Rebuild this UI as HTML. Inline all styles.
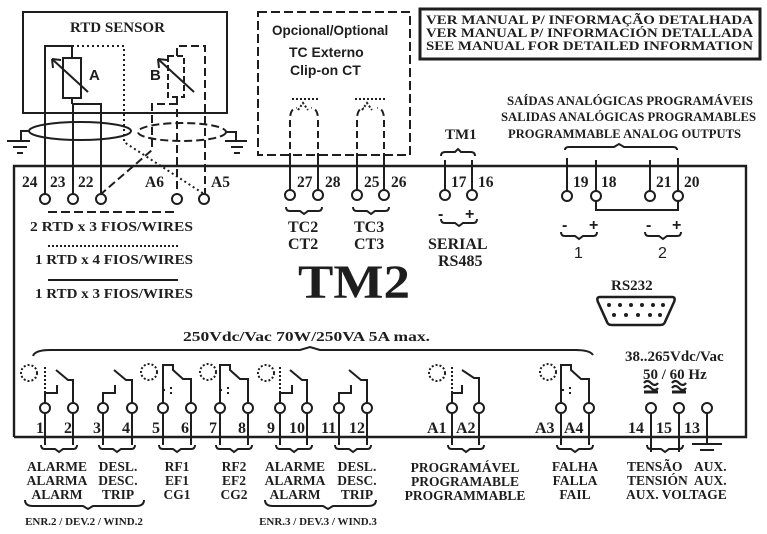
<!DOCTYPE html>
<html><head><meta charset="utf-8"><style>
html,body{margin:0;padding:0;background:#fff}
svg{display:block}
text{font-family:"Liberation Serif",serif;font-weight:bold;fill:#1e1e1e}
.s{font-family:"Liberation Sans",sans-serif}
</style></head><body>
<svg width="767" height="534" viewBox="0 0 767 534" xmlns="http://www.w3.org/2000/svg">
<g fill="none" stroke="#1e1e1e" stroke-width="2">
<path d="M14 437 V166 H746 V437 H14" stroke-width="2.4"/>
<rect x="23" y="12" width="204" height="101"/>
<rect x="258" y="12" width="152" height="143" stroke-dasharray="9,4"/>
<rect x="420" y="9" width="340" height="50" stroke-width="3"/>
<rect x="63" y="58" width="18" height="40"/>
<path d="M52 59 L88 92"/><path d="M52 59 l9 1 M52 59 l1 9"/>
<path d="M45 194 V46 H72 V58"/>
<path d="M72 98 V104 M73 194 V104 H101 V194"/>
<path d="M72 46 H124 V142 L204 194" stroke-dasharray="2,3"/>
<rect x="168" y="56" width="16" height="41" stroke-dasharray="6,3"/>
<path d="M158 59 L194 92" /><path d="M158 59 l9 1 M158 59 l1 9"/>
<path d="M177 56 V46 H205 V194" stroke-dasharray="8,4"/>
<path d="M177 97 V194 M177 104 H152 V150 L101 194" stroke-dasharray="8,4"/>
<ellipse cx="80" cy="131" rx="51" ry="9"/>
<ellipse cx="182" cy="132" rx="44" ry="9" stroke-dasharray="8,4"/>
<path d="M29 131 H21 V141 M7 141 H30 M13 147 H27 M17 153 H23" />
<path d="M226 132 H236 V141 M225 141 H247 M231 147 H243 M234 153 H240"/>
<path d="M290 160 V120 Q290 108 297 108 M318 160 V120 Q318 108 311 108" stroke-dasharray="7,4"/>
<path d="M357 160 V120 Q357 108 364 108 M384 160 V120 Q384 108 377 108" stroke-dasharray="7,4"/>
<path d="M292 99 H320 M355 99 H385 M298 110 l5 -7 l5 7 M362 110 l5 -7 l5 7" stroke-dasharray="2,2"/>
<path d="M290 155 V194 M318 155 V194 M357 155 V194 M384 155 V194"/>
<path d="M445 194 V160 M472 194 V160"/>
<path d="M441 156 q0 -4 4 -4 h10 l3 -3 l3 3 h10 q4 0 4 4"/>
<path d="M567 191 V158 M596 191 V160 M650 191 V160 M678 191 V158"/>
<path d="M565 150 q0 -3 4 -3 h45 l5 -3 l5 3 h49 q4 0 4 3"/>
<path d="M596 201 V210 H678 V201"/>
<path d="M286 207 q0 4 4 4 h10 l4 3 l4 -3 h10 q4 0 4 -4 M353 207 q0 4 4 4 h10 l4 3 l4 -3 h10 q4 0 4 -4"/>
<path d="M441 219 q0 4 4 4 h10 l4 3 l4 -3 h10 q4 0 4 -4"/>
<path d="M561 232 q0 4 4 4 h10 l4 3 l4 -3 h10 q4 0 4 -4 M645 232 q0 4 4 4 h10 l4 3 l4 -3 h10 q4 0 4 -4"/>
<g fill="#fff">
<circle cx="45" cy="199" r="5"/><circle cx="73" cy="199" r="5"/><circle cx="101" cy="199" r="5"/><circle cx="177" cy="199" r="5"/><circle cx="204" cy="199" r="5"/>
<circle cx="290" cy="195" r="5"/><circle cx="318" cy="195" r="5"/><circle cx="357" cy="195" r="5"/><circle cx="384" cy="195" r="5"/>
<circle cx="445" cy="195" r="5"/><circle cx="472" cy="195" r="5"/>
<circle cx="567" cy="196" r="5"/><circle cx="596" cy="196" r="5"/><circle cx="650" cy="196" r="5"/><circle cx="678" cy="196" r="5"/>
</g>
<path d="M48 212 H178" stroke-dasharray="9,4"/>
<path d="M48 246 H178" stroke-dasharray="2,2"/>
<path d="M48 280 H178"/>
<path d="M600 297 H672 Q676 297 674 302 L665 322 Q664 325 660 325 H612 Q608 325 607 322 L598 302 Q596 297 600 297 Z" stroke-width="2.5"/>
<path d="M33 356 Q35 350 50 350 H300 L310 347 L320 350 H575 Q590 350 593 355"/>
<path d="M45 403 V393 H57 V385 M73 403 V380 L68 380 L56 370"/>
<path d="M45 393 V365" stroke-dasharray="2,2"/>
<circle cx="29" cy="373" r="8" stroke-dasharray="2,2"/>
<path d="M103 403 V393 H115 V385 M132 403 V380 L126 380 L114 370"/>
<path d="M163 403 V365 H173 V370 L183 379 H191 V403"/><circle cx="149" cy="372" r="8" stroke-dasharray="2,2"/>
<path d="M162 390 h3 M170 388 h2 M170 393 h2" />
<path d="M220 403 V365 H230 V370 L240 379 H248 V403"/><circle cx="208" cy="372" r="8" stroke-dasharray="2,2"/>
<path d="M219 390 h3 M227 388 h2 M227 393 h2"/>
<path d="M280 403 V393 H292 V385 M307 403 V380 L302 380 L290 370"/>
<path d="M280 393 V365" stroke-dasharray="2,2"/><circle cx="266" cy="373" r="8" stroke-dasharray="2,2"/>
<path d="M339 403 V393 H351 V385 M367 403 V380 L361 380 L349 370"/>
<path d="M452 403 V393 H462 V385 M479 403 V378 L474 378 L462 370"/>
<path d="M452 393 V365" stroke-dasharray="2,2"/><circle cx="437" cy="373" r="8" stroke-dasharray="2,2"/>
<path d="M561 403 V365 H571 V370 L581 379 H589 V403"/><circle cx="548" cy="372" r="8" stroke-dasharray="2,2"/>
<path d="M561 390 h3 M569 388 h2 M569 393 h2"/>
<path d="M651 403 V452 M679 403 V452 M707 403 V443 M692 444 H722 M700 450 H714" />
<path d="M644 392 H658 M672 392 H686" stroke-width="3"/>
<path d="M644 383 q3 -4 7 0 t7 0 M644 388 q3 -4 7 0 t7 0 M672 383 q3 -4 7 0 t7 0 M672 388 q3 -4 7 0 t7 0" stroke-width="2.2"/>
<g fill="#fff">
<circle cx="45" cy="408" r="5"/><circle cx="73" cy="408" r="5"/><circle cx="103" cy="408" r="5"/><circle cx="132" cy="408" r="5"/>
<circle cx="163" cy="408" r="5"/><circle cx="191" cy="408" r="5"/><circle cx="220" cy="408" r="5"/><circle cx="248" cy="408" r="5"/>
<circle cx="280" cy="408" r="5"/><circle cx="307" cy="408" r="5"/><circle cx="339" cy="408" r="5"/><circle cx="367" cy="408" r="5"/>
<circle cx="452" cy="408" r="5"/><circle cx="479" cy="408" r="5"/><circle cx="561" cy="408" r="5"/><circle cx="589" cy="408" r="5"/>
<circle cx="651" cy="408" r="5"/><circle cx="679" cy="408" r="5"/><circle cx="707" cy="408" r="5"/>
</g>
<path d="M45 413 V445 M73 413 V445 M103 413 V445 M132 413 V445 M163 413 V445 M191 413 V445 M220 413 V445 M248 413 V445 M280 413 V445 M307 413 V445 M339 413 V445 M367 413 V445 M452 413 V445 M479 413 V445 M561 413 V445 M589 413 V445"/>
<path d="M41 445 q0 4 4 4 h10 l4 3 l4 -3 h10 q4 0 4 -4 M99 445 q0 4 4 4 h10 l4 3 l4 -3 h10 q4 0 4 -4 M159 445 q0 4 4 4 h10 l4 3 l4 -3 h10 q4 0 4 -4 M216 445 q0 4 4 4 h10 l4 3 l4 -3 h10 q4 0 4 -4 M276 445 q0 4 4 4 h10 l4 3 l4 -3 h10 q4 0 4 -4 M335 445 q0 4 4 4 h10 l4 3 l4 -3 h10 q4 0 4 -4 M448 445 q0 4 4 4 h10 l4 3 l4 -3 h10 q4 0 4 -4 M557 445 q0 4 4 4 h10 l4 3 l4 -3 h10 q4 0 4 -4 M647 445 q0 4 4 4 h10 l4 3 l4 -3 h10 q4 0 4 -4"/>
<path d="M25 500 q0 6 8 6 h50 l5 3 l5 -3 h43 q8 0 8 -6 M265 500 q0 6 8 6 h50 l5 3 l5 -3 h35 q8 0 8 -6"/>
</g>
<text x="70" y="32" font-size="15">RTD SENSOR</text>
<text x="89" y="80" class="s" font-size="15">A</text><text x="150" y="80" class="s" font-size="15">B</text>
<text x="272" y="35" class="s" font-size="13.5">Opcional/Optional</text>
<text x="289" y="57" class="s" font-size="14">TC Externo</text>
<text x="290" y="75" class="s" font-size="14">Clip-on CT</text>
<g font-size="13"><text x="426" y="24" textLength="327" lengthAdjust="spacingAndGlyphs">VER MANUAL P/ INFORMAÇÃO DETALHADA</text><text x="426" y="37" textLength="327" lengthAdjust="spacingAndGlyphs">VER MANUAL P/ INFORMACIÓN DETALLADA</text><text x="426" y="50" textLength="327" lengthAdjust="spacingAndGlyphs">SEE MANUAL FOR DETAILED INFORMATION</text></g>
<g font-size="13"><text x="507" y="105" textLength="246" lengthAdjust="spacingAndGlyphs">SAÍDAS ANALÓGICAS PROGRAMÁVEIS</text><text x="501" y="121" textLength="255" lengthAdjust="spacingAndGlyphs">SALIDAS ANALÓGICAS PROGRAMABLES</text><text x="508" y="138" textLength="233" lengthAdjust="spacingAndGlyphs">PROGRAMMABLE ANALOG OUTPUTS</text></g>
<text x="445" y="139" font-size="15">TM1</text>
<g font-size="15.5">
<text x="22" y="187">24</text><text x="50" y="187">23</text><text x="78" y="187">22</text><text x="145" y="187">A6</text><text x="211" y="187">A5</text>
<text x="297" y="187">27</text><text x="325" y="187">28</text><text x="364" y="187">25</text><text x="391" y="187">26</text>
<text x="451" y="187">17</text><text x="478" y="187">16</text>
<text x="573" y="187">19</text><text x="601" y="187">18</text><text x="656" y="187">21</text><text x="684" y="187">20</text>
</g>
<g font-size="14"><text x="30" y="231" textLength="163" lengthAdjust="spacingAndGlyphs">2 RTD x 3 FIOS/WIRES</text><text x="35" y="264" textLength="158" lengthAdjust="spacingAndGlyphs">1 RTD x 4 FIOS/WIRES</text><text x="35" y="298" textLength="158" lengthAdjust="spacingAndGlyphs">1 RTD x 3 FIOS/WIRES</text></g>
<g font-size="16"><text x="288" y="232">TC2</text><text x="288" y="249">CT2</text><text x="354" y="232">TC3</text><text x="354" y="249">CT3</text>
<text x="428" y="249">SERIAL</text><text x="438" y="266">RS485</text></g>
<g font-size="16"><text x="438" y="219" class="s">-</text><text x="465" y="219" class="s">+</text>
<text x="562" y="230" class="s">-</text><text x="589" y="230" class="s">+</text><text x="646" y="230" class="s">-</text><text x="672" y="230" class="s">+</text></g>
<text x="574" y="258" class="s" font-size="16" style="font-weight:normal">1</text><text x="658" y="258" class="s" font-size="16" style="font-weight:normal">2</text>
<text x="298" y="298" font-size="48" textLength="112" lengthAdjust="spacingAndGlyphs">TM2</text>
<text x="611" y="290" font-size="15">RS232</text>
<g fill="#1e1e1e"><circle cx="609" cy="305" r="2"/><circle cx="620" cy="305" r="2"/><circle cx="631" cy="305" r="2"/><circle cx="642" cy="305" r="2"/><circle cx="653" cy="305" r="2"/><circle cx="663" cy="305" r="2"/><circle cx="614" cy="315" r="2"/><circle cx="626" cy="315" r="2"/><circle cx="638" cy="315" r="2"/><circle cx="650" cy="315" r="2"/><circle cx="660" cy="315" r="2"/></g>
<text x="183" y="341" font-size="14" textLength="247" lengthAdjust="spacingAndGlyphs">250Vdc/Vac  70W/250VA  5A max.</text>
<text x="625" y="361" font-size="15">38..265Vdc/Vac</text>
<text x="643" y="379" font-size="15">50 / 60 Hz</text>
<g font-size="16">
<text x="36" y="433">1</text><text x="64" y="433">2</text><text x="93" y="433">3</text><text x="122" y="433">4</text><text x="152" y="433">5</text><text x="181" y="433">6</text><text x="209" y="433">7</text><text x="238" y="433">8</text><text x="267" y="433">9</text><text x="289" y="433">10</text><text x="321" y="433">11</text><text x="349" y="433">12</text>
<text x="427" y="433">A1</text><text x="456" y="433">A2</text><text x="535" y="433">A3</text><text x="564" y="433">A4</text>
<text x="628" y="433">14</text><text x="656" y="433">15</text><text x="684" y="433">13</text>
</g>
<g font-size="13.5" text-anchor="middle">
<text x="57" y="471">ALARME</text><text x="57" y="485">ALARMA</text><text x="57" y="499">ALARM</text>
<text x="118" y="471">DESL.</text><text x="118" y="485">DESC.</text><text x="118" y="499">TRIP</text>
<text x="177" y="471">RF1</text><text x="177" y="485">EF1</text><text x="177" y="499">CG1</text>
<text x="234" y="471">RF2</text><text x="234" y="485">EF2</text><text x="234" y="499">CG2</text>
<text x="295" y="471">ALARME</text><text x="295" y="485">ALARMA</text><text x="295" y="499">ALARM</text>
<text x="357" y="471">DESL.</text><text x="357" y="485">DESC.</text><text x="357" y="499">TRIP</text>
<text x="465" y="472">PROGRAMÁVEL</text><text x="465" y="486">PROGRAMABLE</text><text x="465" y="500">PROGRAMMABLE</text>
<text x="575" y="471">FALHA</text><text x="575" y="485">FALLA</text><text x="575" y="499">FAIL</text>
</g>
<g font-size="13.5">
<text x="627" y="471">TENSÃO</text><text x="627" y="485">TENSIÓN</text><text x="626" y="499">AUX. VOLTAGE</text>
<text x="694" y="471">AUX.</text><text x="694" y="485">AUX.</text>
</g>
<g font-size="11" text-anchor="middle"><text x="84" y="525">ENR.2 / DEV.2 / WIND.2</text><text x="318" y="525">ENR.3 / DEV.3 / WIND.3</text></g>
</svg>
</body></html>
